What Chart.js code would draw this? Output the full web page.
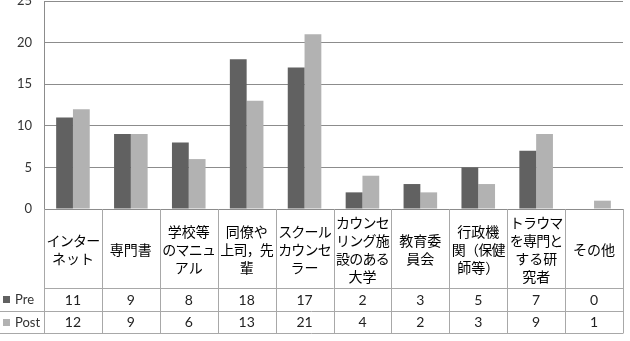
<!DOCTYPE html>
<html>
<head>
<meta charset="utf-8">
<script src="https://cdn.jsdelivr.net/npm/chart.js@4"></script>
<style>
  html, body { margin: 0; padding: 0; background: #fff; }
  #wrap { width: 630px; height: 341px; }
</style>
</head>
<body>
<div id="wrap"><canvas id="chart" width="630" height="341"></canvas></div>
<script>
// category labels, already split into the lines used in the table header
const categories = [
    ['インター', 'ネット'],
    ['専門書'],
    ['学校等', 'のマニュ', 'アル'],
    ['同僚や', '上司，先', '輩'],
    ['スクール', 'カウンセ', 'ラー'],
    ['カウンセ', 'リング施', '設のある', '大学'],
    ['教育委', '員会'],
    ['行政機', '関（保健', '師等）'],
    ['トラウマ', 'を専門と', 'する研', '究者'],
    ['その他'],
];
const preValues  = [11, 9, 8, 18, 17, 2, 3, 5, 7, 0];
const postValues = [12, 9, 6, 13, 21, 4, 2, 3, 9, 1];
const seriesNames = ['Pre', 'Post'];
const yMax = 25;
const yStep = 5;

const PRE_COLOR  = '#616161';
const POST_COLOR = '#b2b2b2';
const GRID_COLOR = '#8c8c8c';
const TABLE_LINE = '#a8a8a8';
const JP_FONT  = '14px "Noto Sans CJK JP"';
const NUM_FONT = '14px Lato';
const KEY_FONT = '13px Lato';

// rows of the data table under the plot
const HEAD_BOTTOM = 288;
const ROW_H = 22.5;

const dataTable = {
    id: 'dataTable',
    afterDraw(chart) {
        const { ctx, chartArea: area, scales: { x } } = chart;
        const n = categories.length;
        const half = (x.getPixelForValue(1) - x.getPixelForValue(0)) / 2;
        const preBottom = HEAD_BOTTOM + ROW_H;
        const postBottom = preBottom + ROW_H;
        const crisp = v => Math.round(v) + 0.5;

        ctx.save();
        ctx.strokeStyle = TABLE_LINE;
        ctx.lineWidth = 1;
        ctx.beginPath();
        ctx.moveTo(area.left, crisp(HEAD_BOTTOM));
        ctx.lineTo(area.right, crisp(HEAD_BOTTOM));
        ctx.moveTo(0, crisp(preBottom));
        ctx.lineTo(area.right, crisp(preBottom));
        ctx.moveTo(0, crisp(postBottom));
        ctx.lineTo(area.right, crisp(postBottom));
        for (let i = 0; i <= n; i++) {
            const px = crisp(x.getPixelForValue(i) - half);
            ctx.moveTo(px, area.bottom);
            ctx.lineTo(px, crisp(postBottom));
        }
        ctx.stroke();

        ctx.textAlign = 'center';
        ctx.textBaseline = 'middle';
        const headMid = (area.bottom + HEAD_BOTTOM) / 2 + 1;
        const lineH = 18;
        categories.forEach((lines, i) => {
            const cx = x.getPixelForValue(i);
            ctx.font = JP_FONT;
            ctx.fillStyle = '#000';
            lines.forEach((t, k) => {
                // kana in the original are a bit narrower than full width
                ctx.letterSpacing = t.length >= 4 ? '-0.8px' : '0px';
                ctx.fillText(t, cx, headMid + (k - (lines.length - 1) / 2) * lineH);
            });
            ctx.letterSpacing = '0px';
            ctx.font = NUM_FONT;
            ctx.fillStyle = '#222';
            ctx.fillText(String(preValues[i]), cx, HEAD_BOTTOM + ROW_H / 2 + 1);
            ctx.fillText(String(postValues[i]), cx, preBottom + ROW_H / 2 + 1);
        });

        // legend keys in the left column
        [PRE_COLOR, POST_COLOR].forEach((c, k) => {
            const cy = HEAD_BOTTOM + ROW_H * k + ROW_H / 2;
            ctx.fillStyle = c;
            ctx.fillRect(3, Math.round(cy - 3), 7, 7);
            ctx.fillStyle = '#333';
            ctx.textAlign = 'left';
            ctx.font = KEY_FONT;
            ctx.fillText(seriesNames[k], 15, cy + 1);
        });
        ctx.restore();
    },
};

new Chart(document.getElementById('chart'), {
    type: 'bar',
    data: {
        labels: categories.map(l => l.join('')),
        datasets: [
            { label: seriesNames[0], data: preValues,  backgroundColor: PRE_COLOR },
            { label: seriesNames[1], data: postValues, backgroundColor: POST_COLOR },
        ],
    },
    options: {
        responsive: false,
        animation: false,
        devicePixelRatio: 1,
        layout: { padding: { top: 1, right: 7, bottom: 341 - 209, left: 0 } },
        datasets: { bar: { barPercentage: 1, categoryPercentage: 0.58 } },
        plugins: { legend: { display: false }, tooltip: { enabled: false } },
        scales: {
            x: { display: false },
            y: {
                min: 0,
                max: yMax,
                ticks: {
                    stepSize: yStep,
                    padding: 12,
                    color: '#333',
                    font: { family: 'Lato', size: 13 },
                },
                grid: { color: GRID_COLOR, drawTicks: false },
                border: { color: GRID_COLOR },
                afterFit(scale) {
                    scale.width = 44;
                    scale.paddingTop = 0;
                    scale.paddingBottom = 0;
                },
            },
        },
    },
    plugins: [dataTable],
});
</script>
</body>
</html>
